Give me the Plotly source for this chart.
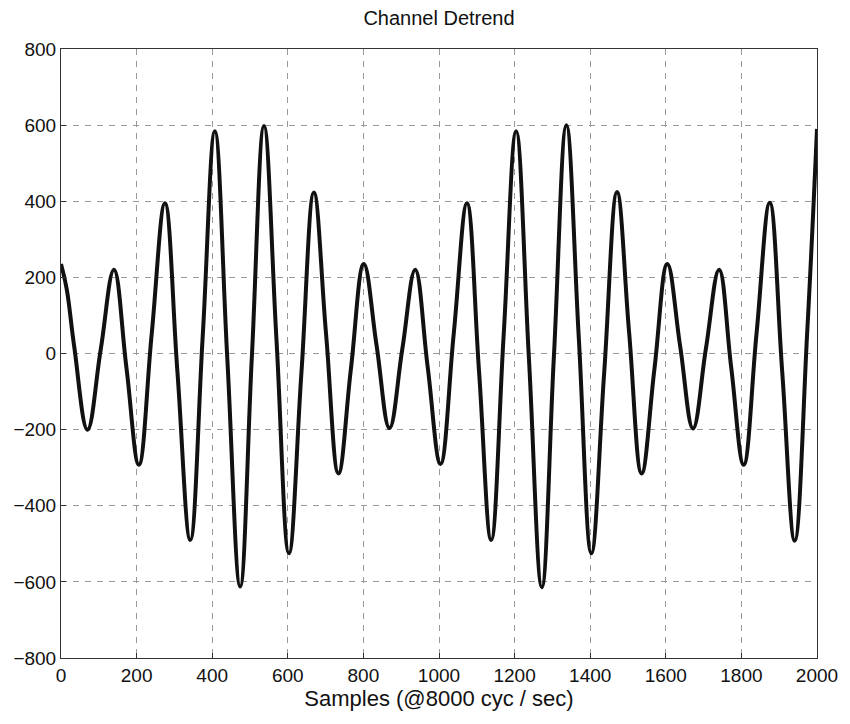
import plotly.graph_objects as go

# Samples (x) and detrended channel values (y)
samples = [0, 15, 35, 70, 105, 140, 173, 206, 240, 275, 308, 342, 375, 407, 440, 474,
           505, 537, 570, 603, 636, 669, 701, 734, 767, 801, 835, 869, 903, 937,
           970, 1004, 1039, 1074, 1106, 1138, 1171, 1204, 1238, 1272, 1304, 1337,
           1370, 1403, 1437, 1471, 1503, 1536, 1570, 1604, 1638, 1672, 1706, 1741,
           1773, 1806, 1840, 1875, 1908, 1941, 1974, 2000]
values = [235, 170, 18, -200, 10, 220, -36, -292, 52, 395, -48, -490, 47, 584, -14, -612,
          -7, 598, 37, -525, -51, 423, 54, -315, -40, 235, 20, -196, 12, 220,
          -35, -290, 52, 395, -48, -490, 47, 584, -15, -614, -7, 600,
          38, -525, -50, 424, 55, -315, -40, 235, 19, -197, 12, 220,
          -36, -292, 52, 396, -48, -492, 54, 590]

x_ticks = [0, 200, 400, 600, 800, 1000, 1200, 1400, 1600, 1800, 2000]
y_ticks = [-800, -600, -400, -200, 0, 200, 400, 600, 800]

FONT = "Liberation Sans, Arial, sans-serif"

fig = go.Figure()
fig.add_trace(go.Scatter(
    x=samples, y=values, mode="lines",
    line=dict(color="#111111", width=4, shape="spline", smoothing=1.15),
    showlegend=False,
))

axis_common = dict(
    showline=True, linecolor="#333333", linewidth=1, mirror=True,
    ticks="inside", ticklen=5, tickcolor="#333333",
    showgrid=True, gridcolor="#999999", gridwidth=1, griddash="6px,6px",
    zeroline=False,
    tickfont=dict(family=FONT, size=19, color="#111111"),
)

fig.update_layout(
    width=850, height=724,
    margin=dict(l=61, r=31, t=49, b=66),
    paper_bgcolor="white", plot_bgcolor="white",
    title=dict(text="Channel Detrend", x=0.5, xref="paper", y=0.975, yanchor="middle",
               font=dict(family=FONT, size=20, color="#111111")),
    xaxis=dict(range=[0, 2000], tickvals=x_ticks,
               title=dict(text="Samples (@8000 cyc / sec)", standoff=4,
                          font=dict(family=FONT, size=22, color="#111111")),
               **axis_common),
    yaxis=dict(range=[-800, 800], tickvals=y_ticks, **axis_common),
)

fig.write_html("out.html")
